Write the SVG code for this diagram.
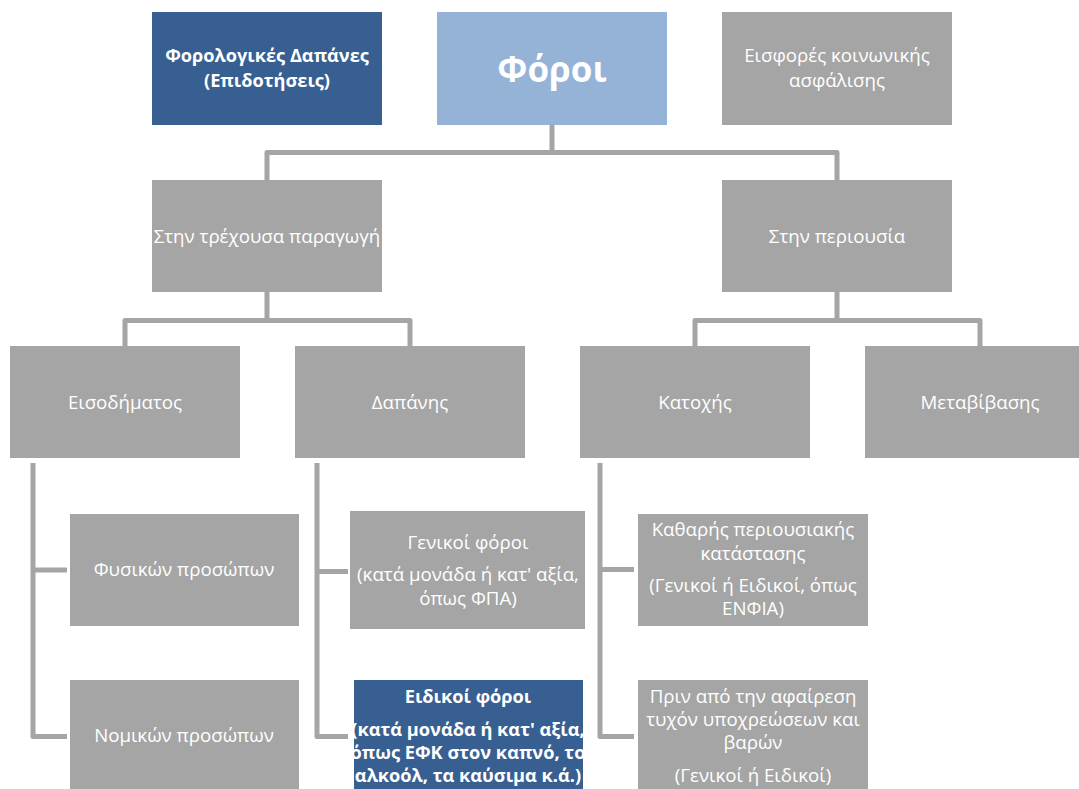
<svg xmlns="http://www.w3.org/2000/svg" width="1079" height="789" viewBox="0 0 1079 789">
<style>
.g{fill:#A5A5A5}
.db{fill:#375F91}
.lb{fill:#95B3D7}
text{font-family:"Open Sans","Noto Sans",sans-serif;fill:#fff;text-anchor:middle;font-size:18.7px}
.b{font-weight:bold;font-size:18.2px}
.c{fill:none;stroke:#A5A5A5;stroke-width:5;stroke-linejoin:round}
</style>
<rect width="1079" height="789" fill="#fff"/>
<g id="connectors">
<path class="c" d="M552 125V152.5H267V180M552 152.5H837V180"/>
<path class="c" d="M267 292V320.5H125V346M267 320.5H410V346"/>
<path class="c" d="M837 292V320.5H695V346M837 320.5H980V346"/>
<path class="c" d="M33 463V736.5H67M33 570H67"/>
<path class="c" d="M317 463V736.5H348M317 571.5H348"/>
<path class="c" d="M600 463V736.5H634M600 569.5H634"/>
</g>
<g id="n_forologikes"><rect class="db" x="152" y="12" width="230" height="113"/><text class="b" x="267" y="62">Φορολογικές Δαπάνες</text><text class="b" x="267" y="87">(Επιδοτήσεις)</text></g>
<g id="n_foroi"><rect class="lb" x="437" y="12" width="230" height="113"/><text class="b" x="552" y="82" style="font-size:35px">Φόροι</text></g>
<g id="n_eisfores"><rect class="g" x="722" y="12" width="230" height="113"/><text x="837" y="62">Εισφορές κοινωνικής</text><text x="837" y="87">ασφάλισης</text></g>
<g id="n_trexousa"><rect class="g" x="152" y="180" width="230" height="112"/><text x="267" y="243">Στην τρέχουσα παραγωγή</text></g>
<g id="n_periousia"><rect class="g" x="722" y="180" width="230" height="112"/><text x="837" y="243">Στην περιουσία</text></g>
<g id="n_eisodimatos"><rect class="g" x="10" y="346" width="230" height="112"/><text x="125" y="409">Εισοδήματος</text></g>
<g id="n_dapanis"><rect class="g" x="295" y="346" width="230" height="112"/><text x="410" y="409">Δαπάνης</text></g>
<g id="n_katoxis"><rect class="g" x="580" y="346" width="230" height="112"/><text x="695" y="409">Κατοχής</text></g>
<g id="n_metavivasis"><rect class="g" x="865" y="346" width="230" height="112"/><text x="980" y="409">Μεταβίβασης</text></g>
<g id="n_fysikon"><rect class="g" x="70" y="514" width="229" height="112"/><text x="184" y="576">Φυσικών προσώπων</text></g>
<g id="n_nomikon"><rect class="g" x="70" y="680" width="229" height="112"/><text x="184" y="742">Νομικών προσώπων</text></g>
<g id="n_genikoi"><rect class="g" x="350" y="511" width="235" height="118"/><text x="468" y="549">Γενικοί φόροι</text><text x="468" y="581">(κατά μονάδα ή κατ' αξία,</text><text x="468" y="605">όπως ΦΠΑ)</text></g>
<g id="n_eidikoi"><rect class="db" x="354" y="680" width="229" height="112"/><text class="b" x="468" y="703">Ειδικοί φόροι</text><text class="b" x="468" y="736">(κατά μονάδα ή κατ' αξία,</text><text class="b" x="468" y="759">όπως ΕΦΚ στον καπνό, το</text><text class="b" x="468" y="782">αλκοόλ, τα καύσιμα κ.ά.)</text></g>
<g id="n_katharis"><rect class="g" x="638" y="514" width="230" height="112"/><text x="753" y="536">Καθαρής περιουσιακής</text><text x="753" y="560">κατάστασης</text><text x="753" y="592">(Γενικοί ή Ειδικοί, όπως</text><text x="753" y="615">ΕΝΦΙΑ)</text></g>
<g id="n_prin"><rect class="g" x="638" y="680" width="230" height="112"/><text x="753" y="703">Πριν από την αφαίρεση</text><text x="753" y="726">τυχόν υποχρεώσεων και</text><text x="753" y="749">βαρών</text><text x="753" y="782">(Γενικοί ή Ειδικοί)</text></g>
</svg>
